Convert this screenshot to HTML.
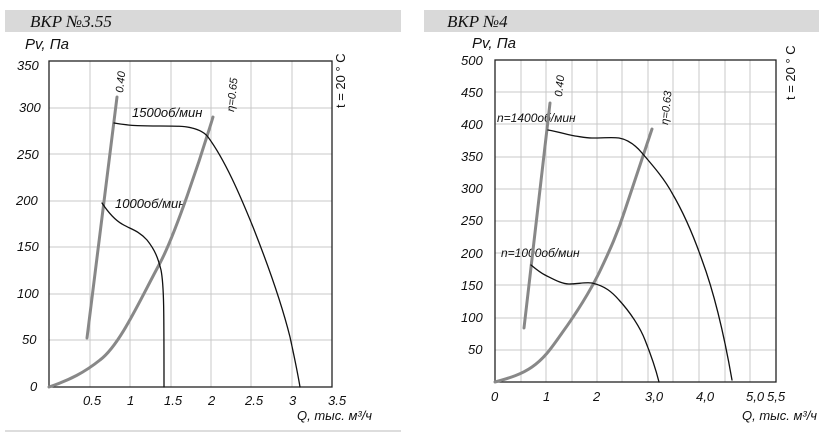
<!DOCTYPE html>
<html><head><meta charset="utf-8"><style>
html,body{margin:0;padding:0;background:#fff;width:825px;height:433px;overflow:hidden}
text{font-family:"Liberation Sans","DejaVu Sans",sans-serif;font-style:italic;fill:#111}
.t{font-size:13px}
.h{font-family:"Liberation Serif",serif;font-size:17px}
.g{stroke:#c8c8c8;stroke-width:1}
.u{font-style:normal}
</style></head><body>
<svg width="825" height="433" viewBox="0 0 825 433" xmlns="http://www.w3.org/2000/svg">
<rect x="5" y="10" width="396" height="22" fill="#d9d9d9"/>
<rect x="424" y="10" width="395" height="22" fill="#d9d9d9"/>
<line x1="5" y1="431" x2="401" y2="431" stroke="#ddd" stroke-width="2"/>
<text x="30" y="27" class="h">BKP №3.55</text>
<text x="447" y="27" class="h">BKP №4</text>

<!-- LEFT chart -->
<g class="g">
<line x1="90" y1="61" x2="90" y2="387"/><line x1="130" y1="61" x2="130" y2="387"/><line x1="171" y1="61" x2="171" y2="387"/><line x1="211" y1="61" x2="211" y2="387"/><line x1="251" y1="61" x2="251" y2="387"/><line x1="292" y1="61" x2="292" y2="387"/>
<line x1="49" y1="108" x2="332" y2="108"/><line x1="49" y1="154" x2="332" y2="154"/><line x1="49" y1="201" x2="332" y2="201"/><line x1="49" y1="247" x2="332" y2="247"/><line x1="49" y1="294" x2="332" y2="294"/><line x1="49" y1="340" x2="332" y2="340"/>
</g>
<rect x="49" y="61" width="283" height="326" fill="none" stroke="#222" stroke-width="1.3"/>
<g class="t">
<text x="17" y="70">350</text><text x="19" y="112">300</text><text x="17" y="159">250</text><text x="16" y="205">200</text><text x="17" y="251">150</text><text x="17" y="298">100</text><text x="22" y="344">50</text><text x="30" y="391">0</text>
<text x="83" y="405">0.5</text><text x="127" y="405">1</text><text x="164" y="405">1.5</text><text x="208" y="405">2</text><text x="245" y="405">2.5</text><text x="289" y="405">3</text><text x="328" y="405">3.5</text>
<text x="297" y="420">Q, тыс. м³/ч</text>
<text x="25" y="49" style="font-size:15px">Pv, Па</text>
<text x="132" y="117">1500об/мин</text>
<text x="115" y="208">1000об/мин</text>
<text class="u" transform="translate(345,108) rotate(-90)">t = 20 ° C</text>
<text transform="translate(123,93) rotate(-84)" style="font-size:11px">0.40</text>
<text transform="translate(234,112) rotate(-84)" style="font-size:11px">η=0.65</text>
</g>
<g fill="none" stroke-linecap="round">
<path d="M87,338 L117,97" stroke="#888" stroke-width="3"/>
<path d="M49,387 C70,380 85,372 100,360 C120,345 140,300 160,263 C175,235 200,160 213,117" stroke="#888" stroke-width="3"/>
<path d="M114,123 C130,126 145,126 160,126 C175,126 185,126 192,128 C200,130 205,133 208,137 C225,160 240,195 253,227 C270,270 282,305 290,337 C295,360 298,375 300,387" stroke="#111" stroke-width="1.3"/>
<path d="M102,203 C108,212 115,220 122,224 C130,229 138,230 147,240 C155,250 158,258 161,270 C164,285 164,310 164,387" stroke="#111" stroke-width="1.3"/>
</g>

<!-- RIGHT chart -->
<g class="g">
<line x1="521" y1="60" x2="521" y2="382"/><line x1="546" y1="60" x2="546" y2="382"/><line x1="572" y1="60" x2="572" y2="382"/><line x1="597" y1="60" x2="597" y2="382"/><line x1="622" y1="60" x2="622" y2="382"/><line x1="648" y1="60" x2="648" y2="382"/><line x1="673" y1="60" x2="673" y2="382"/><line x1="699" y1="60" x2="699" y2="382"/><line x1="725" y1="60" x2="725" y2="382"/><line x1="750" y1="60" x2="750" y2="382"/>
<line x1="495" y1="92" x2="776" y2="92"/><line x1="495" y1="124" x2="776" y2="124"/><line x1="495" y1="157" x2="776" y2="157"/><line x1="495" y1="189" x2="776" y2="189"/><line x1="495" y1="221" x2="776" y2="221"/><line x1="495" y1="253" x2="776" y2="253"/><line x1="495" y1="285" x2="776" y2="285"/><line x1="495" y1="318" x2="776" y2="318"/><line x1="495" y1="350" x2="776" y2="350"/>
</g>
<rect x="495" y="60" width="281" height="322" fill="none" stroke="#222" stroke-width="1.3"/>
<g class="t">
<text x="461" y="65">500</text><text x="461" y="97">450</text><text x="461" y="129">400</text><text x="461" y="161">350</text><text x="461" y="193">300</text><text x="461" y="225">250</text><text x="461" y="258">200</text><text x="461" y="290">150</text><text x="461" y="322">100</text><text x="468" y="354">50</text>
<text x="491" y="401">0</text><text x="543" y="401">1</text><text x="593" y="401">2</text><text x="645" y="401">3,0</text><text x="696" y="401">4,0</text><text x="746" y="401">5,0</text><text x="767" y="401">5,5</text>
<text x="742" y="420">Q, тыс. м³/ч</text>
<text x="472" y="48" style="font-size:15px">Pv, Па</text>
<text x="497" y="122" style="font-size:12px">n=1400об/мин</text>
<text x="501" y="257" style="font-size:12px">n=1000об/мин</text>
<text class="u" transform="translate(795,100) rotate(-90)">t = 20 ° C</text>
<text transform="translate(562,97) rotate(-84)" style="font-size:11px">0.40</text>
<text transform="translate(668,125) rotate(-84)" style="font-size:11px">η=0.63</text>
</g>
<g fill="none" stroke-linecap="round">
<path d="M524,328 L550,103" stroke="#888" stroke-width="3"/>
<path d="M495,382 C510,378 522,374 532,367 C545,358 552,347 562,333 C575,315 588,295 599,273 C610,250 618,232 625,210 C635,180 645,150 652,129" stroke="#888" stroke-width="3"/>
<path d="M548,130 C560,132 568,135 575,136 C582,137 587,138 592,138 C605,138 612,137 619,138 C630,140 637,147 642,153 C655,168 665,180 672,193 C685,215 695,240 702,260 C715,295 725,340 732,380" stroke="#111" stroke-width="1.3"/>
<path d="M531,265 C537,270 541,273 545,275 C555,280 562,284 569,284 C578,284 585,282 592,283 C605,286 612,292 619,300 C630,312 640,327 645,340 C651,355 656,370 659,382" stroke="#111" stroke-width="1.3"/>
</g>
</svg>
</body></html>
